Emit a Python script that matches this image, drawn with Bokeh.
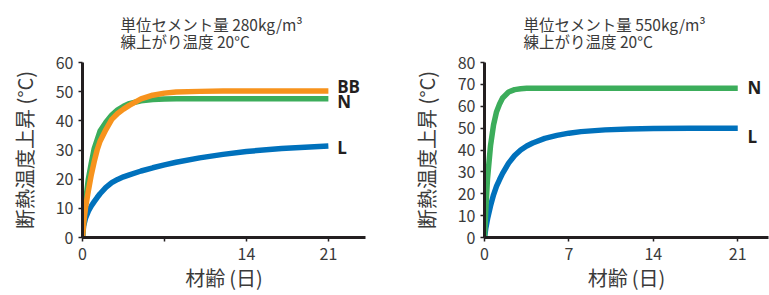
from bokeh.plotting import figure
from bokeh.layouts import row
from bokeh.models import Range1d, FixedTicker, ColumnDataSource
from bokeh.core.properties import value
from bokeh.embed import file_html
from bokeh.resources import INLINE

# ---- data ----
days = [0, 0.1, 0.25, 0.5, 0.75, 1, 1.25, 1.5, 2, 2.5, 3, 3.5, 4, 5, 6, 7, 8, 10, 12, 14, 17, 21]

# left chart: cement 280 kg/m3
left_N = [0, 6, 12, 20, 25.5, 30.5, 33.5, 36.5, 39.5, 42, 43.8, 45, 45.9, 46.9, 47.3, 47.5, 47.6, 47.6, 47.6, 47.6, 47.6, 47.6]
left_BB = [0, 5, 10, 16, 21.5, 26, 30, 33, 37, 40.5, 42.5, 44, 45.3, 47.5, 48.8, 49.5, 49.9, 50.1, 50.2, 50.2, 50.2, 50.2]
left_L = [0, 4, 6.5, 9, 10.8, 12.3, 13.7, 15, 17.2, 18.8, 19.9, 20.8, 21.5, 22.8, 23.9, 24.9, 25.8, 27.3, 28.5, 29.5, 30.5, 31.4]

# right chart: cement 550 kg/m3
right_N = [0, 12, 27, 42, 51.5, 57.5, 61, 63.8, 66.5, 67.6, 68, 68.2, 68.2, 68.2, 68.2, 68.2, 68.2, 68.2, 68.2, 68.2, 68.2, 68.2]
right_L = [0, 4, 8.5, 14.5, 19.5, 23.5, 26.5, 29.3, 34, 37.5, 40, 41.8, 43.2, 45.3, 46.7, 47.7, 48.4, 49.2, 49.6, 49.8, 49.9, 49.9]

x_ticks = [0, 7, 14, 21]
left_y_ticks = [0, 10, 20, 30, 40, 50, 60]
right_y_ticks = [0, 10, 20, 30, 40, 50, 60, 70, 80]

left_title = "単位セメント量 280kg/m³\n練上がり温度 20°C"
right_title = "単位セメント量 550kg/m³\n練上がり温度 20°C"
y_label = "断熱温度上昇 (°C)"
x_label = "材齢\u2009(日)"

left_label_text = ["BB", "N", "L"]
left_label_y = [51.9, 46.6, 30.7]
right_label_text = ["N", "L"]
right_label_y = [68.7, 46.1]

ORANGE = "#F7931D"
GREEN = "#3CAD5B"
BLUE = "#0071BC"
AXIS = "#231F20"
TEXT = "#3A3A3A"
FONT = "Noto Sans CJK JP"
H = 295


def make_fig(width, bl, br, xmax, ymax, yticks, hide7, title, title_offset):
    p = figure(width=width, height=H, output_backend="svg", toolbar_location=None,
               x_range=Range1d(0, xmax), y_range=Range1d(0, ymax),
               min_border_left=bl, min_border_right=br, min_border_top=60,
               min_border_bottom=H - 237,
               outline_line_color=None, background_fill_color="white", border_fill_color="white")
    p.grid.visible = False
    p.title.text = title
    p.title.align = "left"
    p.title.offset = title_offset
    p.title.text_font = FONT
    p.title.text_font_size = "15.5px"
    p.title.text_font_style = "normal"
    p.title.text_color = TEXT
    p.title.text_line_height = 0.78
    p.title.standoff = 21
    for ax in (p.xaxis[0], p.yaxis[0]):
        ax.axis_line_width = 3
        ax.axis_line_color = AXIS
        ax.major_tick_line_color = AXIS
        ax.major_tick_line_width = 1.5
        ax.major_tick_in = 0
        ax.major_tick_out = 4
        ax.minor_tick_line_color = None
        ax.major_label_text_font = FONT
        ax.major_label_text_font_size = "16px"
        ax.major_label_text_color = TEXT
        ax.axis_label_text_font = FONT
        ax.axis_label_text_font_style = "normal"
        ax.axis_label_text_color = TEXT
    p.xaxis.ticker = FixedTicker(ticks=x_ticks)
    p.yaxis.ticker = FixedTicker(ticks=yticks)
    if hide7:
        p.xaxis.major_label_overrides = {7: ""}
    p.xaxis.major_label_standoff = 6
    p.yaxis.major_label_standoff = 5
    p.yaxis.axis_label = y_label
    p.yaxis.axis_label_text_font_size = "20px"
    p.yaxis.axis_label_standoff = 14
    p.xaxis.axis_label = x_label
    p.xaxis.axis_label_text_font_size = "20px"
    p.xaxis.axis_label_standoff = 0
    return p


lw = 5.5

# left chart: frame 82..365 px
left = make_fig(385, 82, 20, 24.17, 60, left_y_ticks, True, left_title, 38)
left.line(days, left_L, line_color=BLUE, line_width=lw, line_join="round")
left.line(days, left_N, line_color=GREEN, line_width=lw, line_join="round")
left.line(days, left_BB, line_color=ORANGE, line_width=lw, line_join="round")
lsrc = ColumnDataSource(dict(x=[21.75] * len(left_label_text), y=left_label_y, t=left_label_text))
left.text(x="x", y="y", text="t", source=lsrc, text_font=value("Open Sans"), text_font_style="bold",
          text_font_size="17px", text_baseline="middle", text_align="left", text_color=AXIS)

# right chart: frame 484..768 px
right = make_fig(384, 99, 1, 23.55, 80, right_y_ticks, False, right_title, 39)
right.line(days, right_L, line_color=BLUE, line_width=lw, line_join="round")
right.line(days, right_N, line_color=GREEN, line_width=lw, line_join="round")
rsrc = ColumnDataSource(dict(x=[21.8] * len(right_label_text), y=right_label_y, t=right_label_text))
right.text(x="x", y="y", text="t", source=rsrc, text_font=value("Open Sans"), text_font_style="bold",
           text_font_size="17px", text_baseline="middle", text_align="left", text_color=AXIS)

layout = row(left, right, spacing=0)
open("out.html", "w").write(file_html(layout, INLINE))
